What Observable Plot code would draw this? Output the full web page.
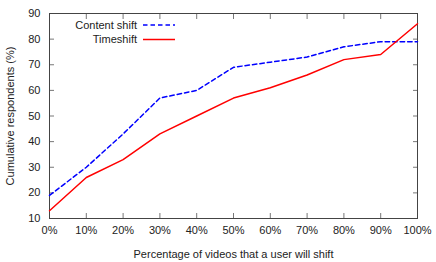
<!DOCTYPE html>
<html>
<head>
<meta charset="utf-8">
<script src="https://cdn.jsdelivr.net/npm/d3@7"></script>
<script src="https://cdn.jsdelivr.net/npm/@observablehq/plot@0.6"></script>
<style>
  html, body { margin: 0; padding: 0; background: #fff; }
  svg { display: block; }
</style>
</head>
<body>
<div id="chart"></div>
<script>
const percentages = [0, 10, 20, 30, 40, 50, 60, 70, 80, 90, 100];
const contentShift = [19, 30, 43, 57, 60, 69, 71, 73, 77, 79, 79];
const timeshift = [13, 26, 33, 43, 50, 57, 61, 66, 72, 74, 86];
const seriesNames = ["Content shift", "Timeshift"];
const yTicks = [10, 20, 30, 40, 50, 60, 70, 80, 90];

const contentData = percentages.map((p, i) => ({x: p, y: contentShift[i]}));
const timeData = percentages.map((p, i) => ({x: p, y: timeshift[i]}));

const font = "Liberation Sans, Arial, Helvetica, sans-serif";
const fs = "11px";

const plot = Plot.plot({
  width: 436,
  height: 262,
  marginLeft: 49,
  marginRight: 19,
  marginTop: 13,
  marginBottom: 44,
  style: {fontFamily: font, fontSize: fs, color: "#222", background: "#fff"},
  x: {domain: [0, 100], ticks: percentages},
  y: {domain: [10, 90], ticks: yTicks},
  marks: [
    Plot.axisX({anchor: "bottom", ticks: percentages, tickSize: -5, tickPadding: 13, tickFormat: d => d + "%", label: "Percentage of videos that a user will shift", labelAnchor: "center", labelArrow: "none", labelOffset: 39, stroke: "#777", fill: "#222"}),
    Plot.axisX({anchor: "top", ticks: percentages, tickSize: -5, tickFormat: () => "", label: null, stroke: "#777"}),
    Plot.axisY({anchor: "left", ticks: yTicks, tickSize: -5, tickPadding: 14, label: "Cumulative respondents (%)", labelAnchor: "center", labelArrow: "none", labelOffset: 43, stroke: "#777", fill: "#222"}),
    Plot.axisY({anchor: "right", ticks: yTicks, tickSize: -5, tickFormat: () => "", label: null, stroke: "#777"}),
    Plot.frame({stroke: "#444", strokeWidth: 1}),
    Plot.line(contentData, {x: "x", y: "y", stroke: "#0000ff", strokeWidth: 1.5, strokeDasharray: "4.5,3"}),
    Plot.line(timeData, {x: "x", y: "y", stroke: "#ff0000", strokeWidth: 1.5})
  ]
});

// Legend (gnuplot-style, inside top-left)
const svg = d3.select(plot);
const legend = [
  {name: seriesNames[0], stroke: "#0000ff", dash: "4.5,3", y: 25},
  {name: seriesNames[1], stroke: "#ff0000", dash: null, y: 39.5}
];
const g = svg.append("g").attr("font-family", font).attr("font-size", fs);
legend.forEach(d => {
  g.append("text").attr("x", 137).attr("y", d.y).attr("dy", "0.35em")
    .attr("text-anchor", "end").attr("fill", "#222").text(d.name);
  g.append("line").attr("x1", 143).attr("x2", 175).attr("y1", d.y).attr("y2", d.y)
    .attr("stroke", d.stroke).attr("stroke-width", 1.5)
    .attr("stroke-dasharray", d.dash);
});

document.getElementById("chart").appendChild(plot);
</script>
</body>
</html>
